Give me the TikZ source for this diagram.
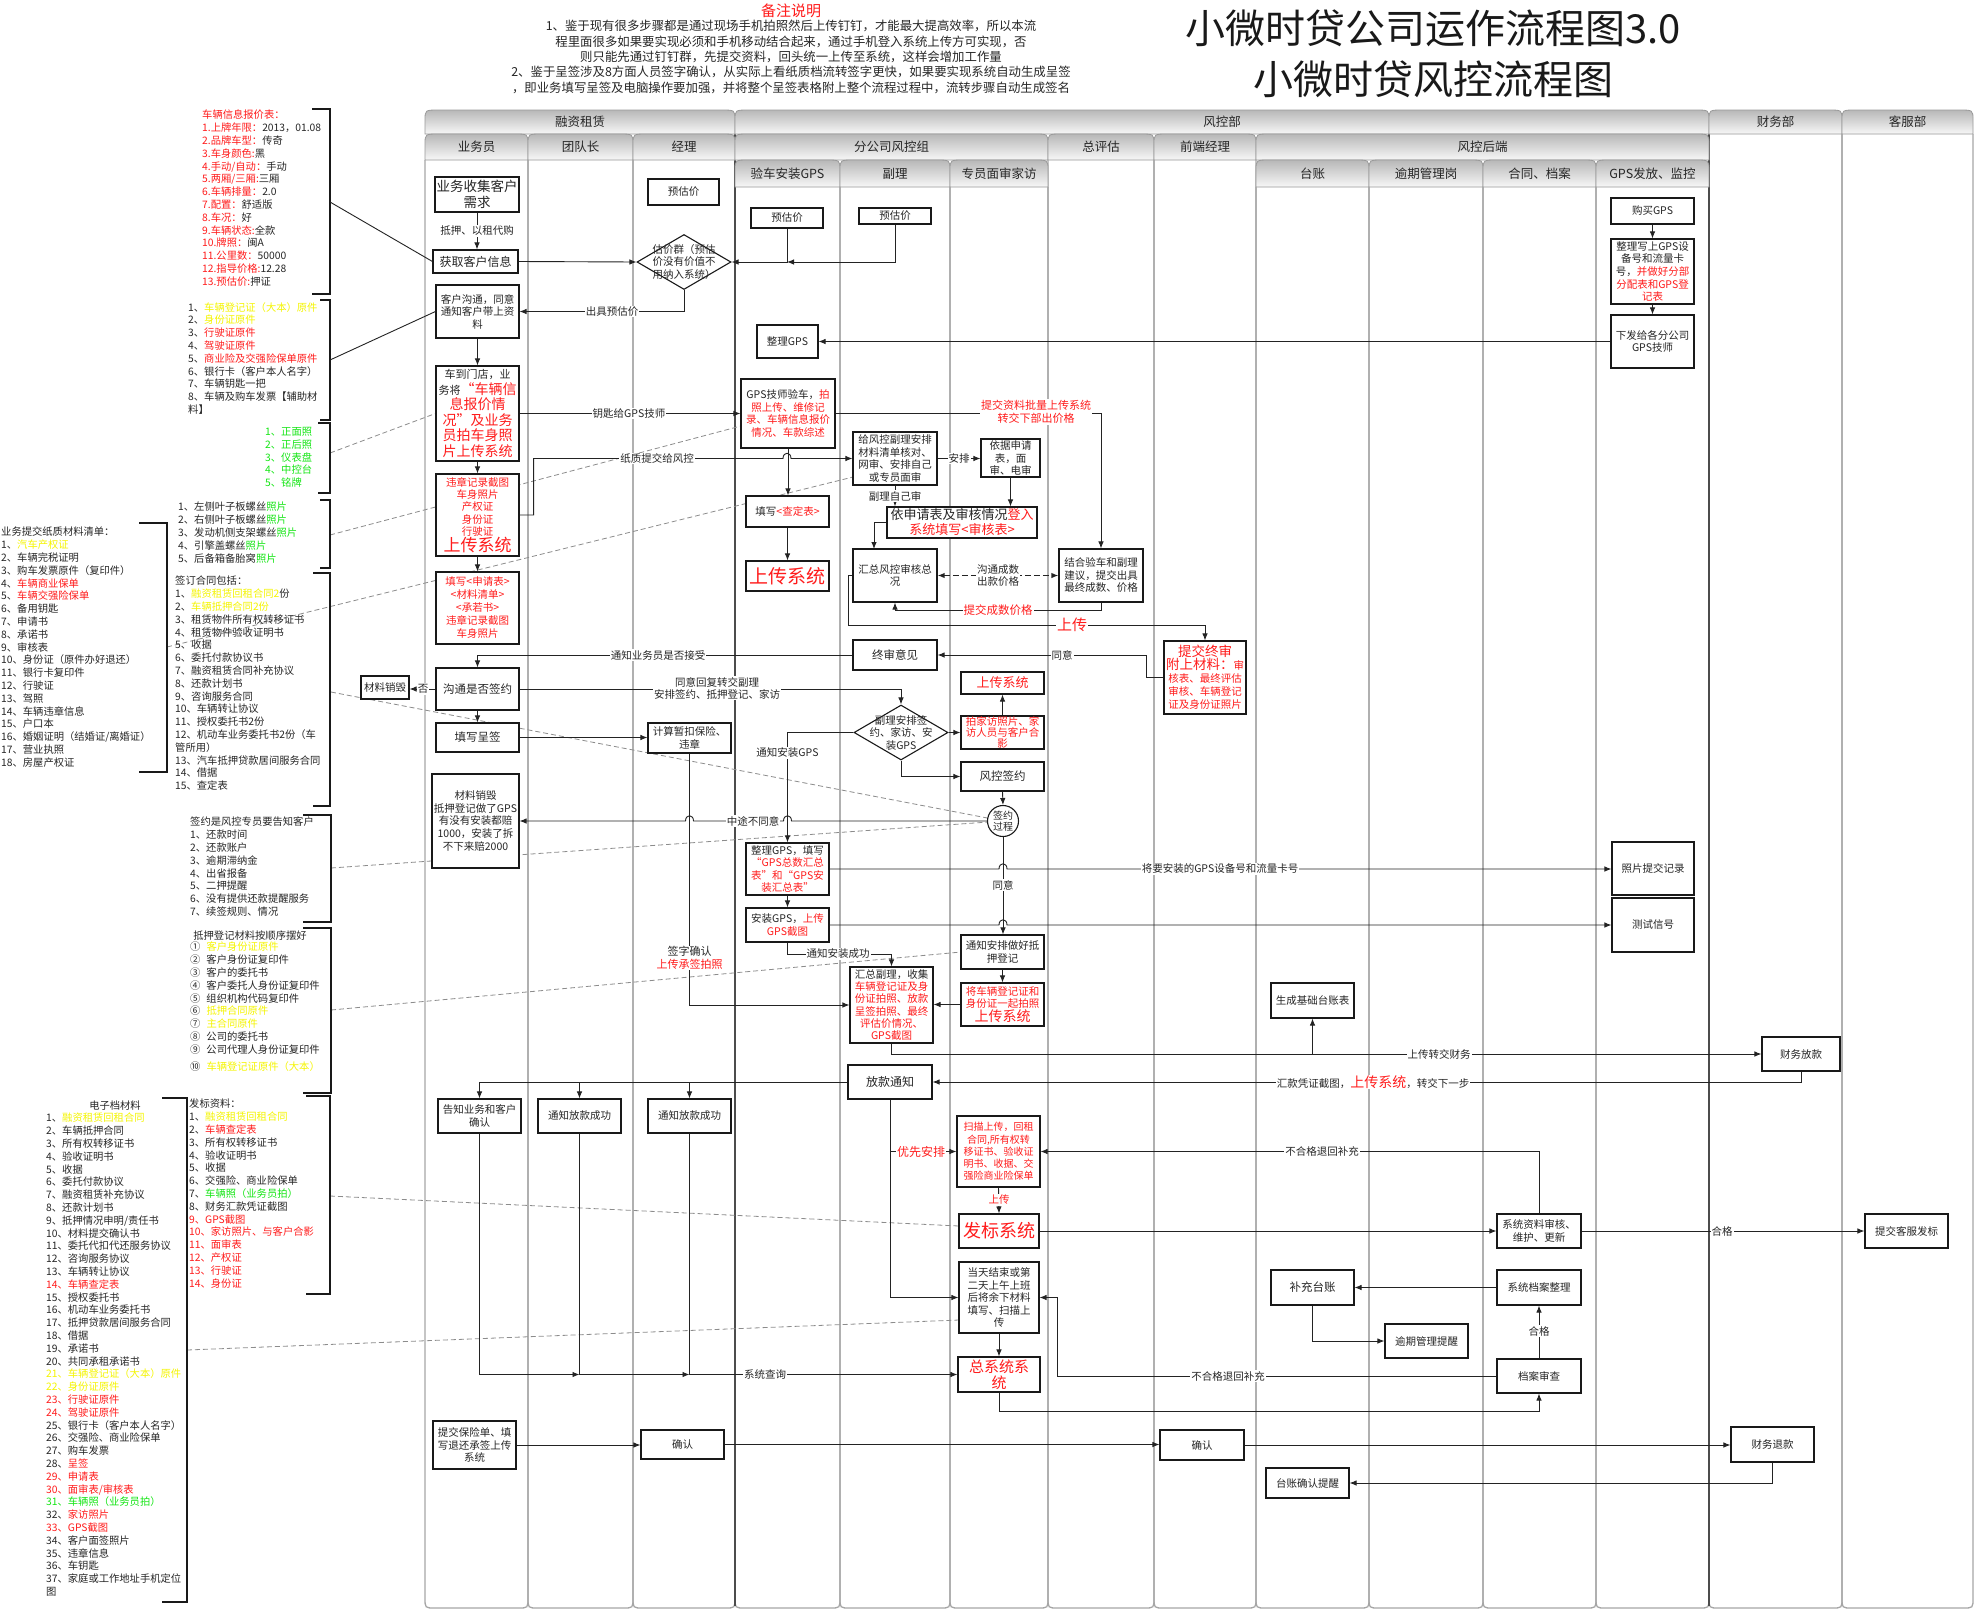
\documentclass[tikz,border=0pt]{standalone}
\usepackage{fontspec}
\setmainfont{Noto Sans CJK SC}
\usetikzlibrary{arrows.meta,shapes.geometric}
\pgfdeclarelayer{bg}
\pgfdeclarelayer{mid}
\pgfsetlayers{bg,mid,main}
\definecolor{rd}{RGB}{255,28,28}
\definecolor{yl}{RGB}{245,245,0}
\definecolor{gn}{RGB}{20,230,20}
\definecolor{lnc}{RGB}{35,35,35}
\newcommand{\fsz}[2]{\fontsize{#1}{#2}\selectfont}
\newcommand{\rtx}[1]{\textcolor{rd}{#1}}
\newcommand{\ytx}[1]{\textcolor{yl}{#1}}
\newcommand{\gtx}[1]{\textcolor{gn}{#1}}
\newcommand{\mkbox}[7][]{\node[bx,#1,minimum width={#5pt-#3pt},minimum height={#6pt-#4pt}] (#2) at ({(#3+#5)/2},{(#4+#6)/2}) {#7};}
\newcommand{\mkhdr}[6]{\shadedraw[hdr] (#1,#4) -- (#1,{#2+10}) .. controls (#1,#2) .. ({#1+14},#2) -- ({#3-14},#2) .. controls (#3,#2) .. (#3,{#2+10}) -- (#3,#4) -- cycle;
 \node[hdrtx] (#5) at ({(#1+#3)/2},{(#2+#4)/2}) {#6};}
\newcommand{\mklane}[3]{\draw[lanest] (#1,#3) -- (#1,1598) .. controls (#1,1608) .. ({#1+10},1608) -- ({#2-10},1608) .. controls (#2,1608) .. (#2,1598) -- (#2,#3);}
\newcommand{\mkbrk}[4]{\draw[brk] (#1,#3) -- (#2,#3) -- (#2,#4) -- (#1,#4);}
\begin{document}
\begin{tikzpicture}[x=1pt,y=-1pt,
 bx/.style={draw=black!90, line width=1.1pt, fill=white, inner sep=0.5pt, align=center, font=\fsz{10.5}{12.5}, text=black!85},
 lbl/.style={fill=white, inner sep=1pt, align=center, font=\fsz{10.5}{12}, text=black!85},
 ar/.style={draw=lnc, line width=0.9pt, -{Latex[length=7pt,width=5.5pt]}},
 ln0/.style={draw=lnc, line width=0.9pt},
 dsh/.style={draw=black!45, line width=0.8pt, dash pattern=on 5pt off 3pt},
 note/.style={anchor=north west, inner sep=0pt, align=left, font=\fsz{10.3}{12.8}, text=black!85},
 dia/.style={draw=black!90, line width=1.1pt, fill=white, diamond, inner sep=0pt, minimum width=94pt, minimum height=55pt},
 dtx/.style={align=center, font=\fsz{10.5}{12.5}, text=black!85, inner sep=0pt},
 brk/.style={draw=black!90, line width=1.1pt},
 lanest/.style={draw=black!35, line width=1.3pt},
 hdr/.style={top color=black!28, bottom color=black!3, draw=black!40, line width=0.8pt},
 hdrtx/.style={font=\fsz{12.5}{14}, text=black!85}
]
\useasboundingbox (0,0) rectangle (1975,1612);
\begin{pgfonlayer}{bg}
\fill[white] (0,0) rectangle (1975,1612);
\mklane{425}{528}{160}
\mklane{528}{633}{160}
\mklane{633}{735}{160}
\mklane{735}{840}{187}
\mklane{840}{950}{187}
\mklane{950}{1048}{187}
\mklane{1048}{1154}{160}
\mklane{1154}{1256}{160}
\mklane{1256}{1369}{187}
\mklane{1369}{1483}{187}
\mklane{1483}{1596}{187}
\mklane{1596}{1709}{187}
\mklane{1709}{1842}{134}
\mklane{1842}{1973}{134}
\draw[draw=black!70, line width=1.6pt] (735,134) -- (735,1606);
\draw[draw=black!70, line width=1.6pt] (1709,134) -- (1709,1606);
\mkhdr{425}{110}{735}{134}{h1}{融资租赁}
\mkhdr{735}{110}{1709}{134}{h2}{风控部}
\mkhdr{1709}{110}{1842}{134}{h3}{财务部}
\mkhdr{1842}{110}{1973}{134}{h4}{客服部}
\mkhdr{425}{134}{528}{160}{h5}{业务员}
\mkhdr{528}{134}{633}{160}{h6}{团队长}
\mkhdr{633}{134}{735}{160}{h7}{经理}
\mkhdr{735}{134}{1048}{160}{h8}{分公司风控组}
\mkhdr{1048}{134}{1154}{160}{h9}{总评估}
\mkhdr{1154}{134}{1256}{160}{h10}{前端经理}
\mkhdr{1256}{134}{1709}{160}{h11}{风控后端}
\mkhdr{735}{160}{840}{187}{h12}{验车安装GPS}
\mkhdr{840}{160}{950}{187}{h13}{副理}
\mkhdr{950}{160}{1048}{187}{h14}{专员面审家访}
\mkhdr{1256}{160}{1369}{187}{h15}{台账}
\mkhdr{1369}{160}{1483}{187}{h16}{逾期管理岗}
\mkhdr{1483}{160}{1596}{187}{h17}{合同、档案}
\mkhdr{1596}{160}{1709}{187}{h18}{GPS发放、监控}
\end{pgfonlayer}

% titles and notes
\node[font=\fsz{40}{46}, text=black!90] (t1) at (1433,28) {小微时贷公司运作流程图3.0};
\node[font=\fsz{40}{46}, text=black!90] (t2) at (1433,79) {小微时贷风控流程图};
\node[font=\fsz{15}{17}, text=rd] (nt) at (791,11) {备注说明};
\node[font=\fsz{12.4}{15.3}, align=center, text=black!85] (nb) at (791,57) {1、鉴于现有很多步骤都是通过现场手机拍照然后上传钉钉，才能最大提高效率，所以本流\\程里面很多如果要实现必须和手机移动结合起来，通过手机登入系统上传方可实现，否\\则只能先通过钉钉群，先提交资料，回头统一上传至系统，这样会增加工作量\\2、鉴于呈签涉及8方面人员签字确认，从实际上看纸质档流转签字更快，如果要实现系统自动生成呈签\\，即业务填写呈签及电脑操作要加强，并将整个呈签表格附上整个流程过程中，流转步骤自动生成签名};

% side lists
\node[note] (n1) at (202,110) {\rtx{车辆信息报价表：}\\\rtx{1.上牌年限：}2013，01.08\\\rtx{2.品牌车型：}传奇\\\rtx{3.车身颜色:}黑\\\rtx{4.手动/自动：}手动\\\rtx{5.两厢/三厢:}三厢\\\rtx{6.车辆排量：}2.0\\\rtx{7.配置：}舒适版\\\rtx{8.车况：}好\\\rtx{9.车辆状态:}全款\\\rtx{10.牌照：}闽A\\\rtx{11.公里数：}50000\\\rtx{12.指导价格:}12.28\\\rtx{13.预估价:}押证};
\node[note] (n2) at (188,302) {1、\ytx{车辆登记证（大本）原件}\\2、\ytx{身份证原件}\\3、\rtx{行驶证原件}\\4、\rtx{驾驶证原件}\\5、\rtx{商业险及交强险保单原件}\\6、银行卡（客户本人名字）\\7、车辆钥匙一把\\8、车辆及购车发票【辅助材\\料】};
\node[note, text=gn] (n3) at (265,427) {1、正面照\\2、正后照\\3、仪表盘\\4、中控台\\5、铭牌};
\node[note] (n4) at (178,502) {1、左侧叶子板螺丝\gtx{照片}\\2、右侧叶子板螺丝\gtx{照片}\\3、发动机侧支架螺丝\gtx{照片}\\4、引擎盖螺丝\gtx{照片}\\5、后备箱备胎窝\gtx{照片}};
\node[note] (n5) at (175,576) {签订合同包括：\\1、\ytx{融资租赁回租合同2}份\\2、\ytx{车辆抵押合同2份}\\3、租赁物件所有权转移证书\\4、租赁物件验收证明书\\5、收据\\6、委托付款协议书\\7、融资租赁合同补充协议\\8、还款计划书\\9、咨询服务合同\\10、车辆转让协议\\11、授权委托书2份\\12、机动车业务委托书2份（车\\管所用）\\13、汽车抵押贷款居间服务合同\\14、借据\\15、查定表};
\node[note] (n6) at (1,527) {业务提交纸质材料清单：\\1、\ytx{汽车产权证}\\2、车辆完税证明\\3、购车发票原件（复印件）\\4、\rtx{车辆商业保单}\\5、\rtx{车辆交强险保单}\\6、备用钥匙\\7、申请书\\8、承诺书\\9、审核表\\10、身份证（原件办好退还）\\11、银行卡复印件\\12、行驶证\\13、驾照\\14、车辆违章信息\\15、户口本\\16、婚姻证明（结婚证/离婚证）\\17、营业执照\\18、房屋产权证};
\node[note] (n7) at (190,817) {签约是风控专员要告知客户\\1、还款时间\\2、还款账户\\3、逾期滞纳金\\4、出省报备\\5、二押提醒\\6、没有提供还款提醒服务\\7、续签规则、情况};
\node[note, anchor=center] (n8t) at (250,936) {抵押登记材料按顺序摆好};
\node[note] (n8) at (190,942) {①\hspace{6pt}\ytx{客户身份证原件}\\②\hspace{6pt}客户身份证复印件\\③\hspace{6pt}客户的委托书\\④\hspace{6pt}客户委托人身份证复印件\\⑤\hspace{6pt}组织机构代码复印件\\⑥\hspace{6pt}\ytx{抵押合同原件}\\⑦\hspace{6pt}\ytx{主合同原件}\\⑧\hspace{6pt}公司的委托书\\⑨\hspace{6pt}公司代理人身份证复印件\\[4pt]⑩\hspace{6pt}\ytx{车辆登记证原件（大本）}};
\node[note] (n9) at (189,1099) {发标资料：\\1、\ytx{融资租赁回租合同}\\2、\rtx{车辆查定表}\\3、所有权转移证书\\4、验收证明书\\5、收据\\6、交强险、商业险保单\\7、\gtx{车辆照（业务员拍）}\\8、财务汇款凭证截图\\\rtx{9、GPS截图}\\\rtx{10、家访照片、与客户合影}\\\rtx{11、面审表}\\\rtx{12、产权证}\\\rtx{13、行驶证}\\\rtx{14、身份证}};
\node[note, anchor=center] (n10t) at (115,1106) {电子档材料};
\node[note] (n10) at (46,1113) {1、\ytx{融资租赁回租合同}\\2、车辆抵押合同\\3、所有权转移证书\\4、验收证明书\\5、收据\\6、委托付款协议\\7、融资租赁补充协议\\8、还款计划书\\9、抵押情况申明/责任书\\10、材料提交确认书\\11、委托代扣代还服务协议\\12、咨询服务协议\\13、车辆转让协议\\\rtx{14、车辆查定表}\\15、授权委托书\\16、机动车业务委托书\\17、抵押贷款居间服务合同\\18、借据\\19、承诺书\\20、共同承租承诺书\\\ytx{21、车辆登记证（大本）原件}\\\ytx{22、身份证原件}\\\rtx{23、行驶证原件}\\\rtx{24、驾驶证原件}\\25、银行卡（客户本人名字）\\26、交强险、商业险保单\\27、购车发票\\28、\rtx{呈签}\\\rtx{29、申请表}\\\rtx{30、面审表/审核表}\\\gtx{31、车辆照（业务员拍）}\\32、\rtx{家访照片}\\\rtx{33、GPS截图}\\34、客户面签照片\\35、违章信息\\36、车钥匙\\37、家庭或工作地址手机定位\\图};

\mkbrk{312}{330}{109}{294}
\mkbrk{320}{330}{300}{420}
\mkbrk{318}{330}{423}{493}
\mkbrk{320}{330}{500}{568}
\mkbrk{313}{330}{573}{806}
\mkbrk{139}{167}{523}{772}
\mkbrk{303}{331}{815}{922}
\mkbrk{303}{331}{928}{1093}
\mkbrk{306}{330}{1096}{1294}
\mkbrk{162}{187}{1098}{1602}

% boxes
\mkbox[font=\fsz{13.5}{16}]{B1}{435}{177}{519}{212}{业务收集客户\\需求}
\mkbox[font=\fsz{12}{14}]{B2}{433}{250}{518}{273}{获取客户信息}
\mkbox{B3}{436}{285}{519}{338}{客户沟通，同意\\通知客户带上资\\料}
\mkbox[font=\fsz{11}{15.5},inner sep=0pt]{B4}{436}{366}{519}{461}{车到门店，业\\务将{\fsz{14}{16}\rtx{“车辆信}}\\{\fsz{14}{16}\rtx{息报价情}}\\{\fsz{14}{16}\rtx{况”及业务}}\\{\fsz{14}{16}\rtx{员拍车身照}}\\{\fsz{14}{16}\rtx{片上传系统}}}
\mkbox[font=\fsz{10.5}{12.3},inner sep=0pt]{B5}{436}{474}{519}{556}{\rtx{违章记录截图}\\\rtx{车身照片}\\\rtx{产权证}\\\rtx{身份证}\\\rtx{行驶证}\\{\fsz{17}{19}\rtx{上传系统}}}
\mkbox[font=\fsz{10.5}{13}]{B6}{436}{572}{519}{644}{\rtx{填写<申请表>}\\\rtx{<材料清单>}\\\rtx{<承若书>}\\\rtx{违章记录截图}\\\rtx{车身照片}}
\mkbox[font=\fsz{11.5}{14}]{B7}{436}{668}{519}{710}{沟通是否签约}
\mkbox[font=\fsz{11.5}{14}]{B8}{436}{723}{519}{752}{填写呈签}
\mkbox[font=\fsz{10.5}{12.6}]{B9}{432}{774}{519}{868}{材料销毁\\抵押登记做了GPS\\有没有安装都赔\\1000，安装了拆\\不下来赔2000}
\mkbox{B10}{438}{1099}{521}{1133}{告知业务和客户\\确认}
\mkbox{B11}{433}{1421}{516}{1469}{提交保险单、填\\写退还承签上传\\系统}
\mkbox{B0}{361}{676}{409}{699}{材料销毁}
\mkbox{B12}{538}{1099}{621}{1133}{通知放款成功}
\mkbox{B13}{648}{179}{719}{205}{预估价}
\node[dia] (D1) at (684,262) {};
\node[dtx] (D1t) at (684,262) {估价群（预估\\价没有价值不\\用纳入系统）};
\mkbox{B14}{648}{723}{731}{753}{计算暂扣保险、\\违章}
\mkbox{B15}{648}{1099}{731}{1133}{通知放款成功}
\mkbox{B16}{641}{1430}{724}{1459}{确认}
\mkbox{B17}{751}{208}{823}{228}{预估价}
\mkbox{B18}{757}{325}{818}{358}{整理GPS}
\mkbox[font=\fsz{10.5}{12.8}]{B19}{741}{379}{835}{448}{GPS技师验车，\rtx{拍}\\\rtx{照上传、维修记}\\\rtx{录、车辆信息报价}\\\rtx{情况、车款综述}}
\mkbox{B20}{746}{496}{829}{527}{填写\rtx{<查定表>}}
\mkbox[font=\fsz{19}{22}]{B21}{746}{561}{829}{591}{\rtx{上传系统}}
\mkbox[font=\fsz{10.5}{12.5}]{B22}{746}{843}{829}{895}{整理GPS，填写\\\rtx{“GPS总数汇总}\\\rtx{表”和“GPS安}\\\rtx{装汇总表”}}
\mkbox{B23}{746}{908}{829}{942}{安装GPS，\rtx{上传}\\\rtx{GPS截图}}
\mkbox{B24}{859}{208}{931}{224}{预估价}
\mkbox{B25}{853}{432}{937}{485}{给风控副理安排\\材料清单核对、\\网审、安排自己\\或专员面审}
\mkbox[font=\fsz{13}{15}]{B26}{887}{507}{1037}{538}{依申请表及审核情况\rtx{登入}\\\rtx{系统填写<审核表>}}
\mkbox{B27}{853}{549}{937}{602}{汇总风控审核总\\况}
\mkbox[font=\fsz{11.5}{14}]{B28}{853}{640}{937}{670}{终审意见}
\node[dia] (D2) at (901,732.5) {};
\node[dtx] (D2t) at (901,732.5) {副理安排签\\约、家访、安\\装GPS};
\mkbox[font=\fsz{10.5}{12.3},inner sep=0pt]{B29}{850}{967}{933}{1043}{汇总副理，收集\\\rtx{车辆登记证及身}\\\rtx{份证拍照、放款}\\\rtx{呈签拍照、最终}\\\rtx{评估价情况、}\\\rtx{GPS截图}}
\mkbox[font=\fsz{12}{14}]{B30}{848}{1065}{932}{1099}{放款通知}
\mkbox[font=\fsz{10}{12.2}]{B31}{957}{1116}{1040}{1187}{\rtx{扫描上传，回租}\\\rtx{合同,所有权转}\\\rtx{移证书、验收证}\\\rtx{明书、收据、交}\\\rtx{强险商业险保单}}
\mkbox[font=\fsz{10.5}{12.2},inner sep=0pt]{B32}{981}{439}{1040}{477}{依据申请\\表，面\\审、电审}
\mkbox[font=\fsz{13}{15}]{B33}{961}{672}{1044}{694}{\rtx{上传系统}}
\mkbox[font=\fsz{10.5}{11},inner sep=0pt]{B34}{961}{716}{1044}{749}{\rtx{拍家访照片、家}\\\rtx{访人员与客户合}\\\rtx{影}}
\mkbox[font=\fsz{11.5}{14}]{B35}{961}{762}{1044}{791}{风控签约}
\node[draw=black!90, line width=1.1pt, fill=white, circle, minimum size=31pt, inner sep=0pt, align=center, font=\fsz{10}{11}, text=black!85] (C1) at (1003,821) {签约\\过程};
\mkbox{B36}{961}{935}{1044}{969}{通知安排做好抵\\押登记}
\mkbox[font=\fsz{10.5}{12.5},inner sep=0pt]{B37}{961}{983}{1044}{1026}{\rtx{将车辆登记证和}\\\rtx{身份证一起拍照}\\{\fsz{14}{16}\rtx{上传系统}}}
\mkbox[font=\fsz{18}{21}]{B38}{959}{1214}{1039}{1248}{\rtx{发标系统}}
\mkbox[font=\fsz{10.5}{12.5}]{B39}{959}{1262}{1039}{1333}{当天结束或第\\二天上午上班\\后将余下材料\\填写、扫描上\\传}
\mkbox[font=\fsz{15}{16}]{B40}{958}{1357}{1040}{1392}{\rtx{总系统系}\\\rtx{统}}
\mkbox{B41}{1059}{549}{1143}{602}{结合验车和副理\\建议，提交出具\\最终成数、价格}
\mkbox{B42}{1160}{1430}{1244}{1460}{确认}
\mkbox[font=\fsz{10.5}{13},inner sep=0pt]{B43}{1164}{641}{1246}{714}{{\fsz{13.5}{15}\rtx{提交终审}}\\{\fsz{13.5}{15}\rtx{附上材料：}}\rtx{审}\\\rtx{核表、最终评估}\\\rtx{审核、车辆登记}\\\rtx{证及身份证照片}}
\mkbox{B44}{1271}{983}{1354}{1018}{生成基础台账表}
\mkbox[font=\fsz{11.5}{14}]{B45}{1271}{1270}{1354}{1305}{补充台账}
\mkbox{B46}{1266}{1468}{1349}{1498}{台账确认提醒}
\mkbox{B47}{1385}{1324}{1468}{1358}{逾期管理提醒}
\mkbox{B48}{1497}{1214}{1581}{1248}{系统资料审核、\\维护、更新}
\mkbox{B49}{1497}{1270}{1581}{1305}{系统档案整理}
\mkbox{B50}{1497}{1359}{1581}{1393}{档案审查}
\mkbox{B51}{1611}{198}{1694}{224}{购买GPS}
\mkbox[font=\fsz{10.5}{12.6},inner sep=0pt]{B52}{1611}{239}{1694}{304}{整理写上GPS设\\备号和流量卡\\号，\rtx{并做好分部}\\\rtx{分配表和GPS登}\\\rtx{记表}}
\mkbox{B53}{1611}{315}{1694}{368}{下发给各分公司\\GPS技师}
\mkbox{B54}{1612}{842}{1694}{895}{照片提交记录}
\mkbox{B55}{1612}{898}{1694}{952}{测试信号}
\mkbox{B56}{1762}{1037}{1840}{1071}{财务放款}
\mkbox{B57}{1731}{1427}{1814}{1462}{财务退款}
\mkbox{B58}{1865}{1214}{1948}{1248}{提交客服发标}

% coordinates
\coordinate (ba) at (330,202);
\coordinate (bb) at (330,360);
\coordinate (k1) at (874,549);
\coordinate (k2) at (848,625);
\coordinate (k3) at (1146,655);
\coordinate (k4) at (1057,1376);
\coordinate (k5) at (579.5,1374.5);
\coordinate (k6) at (689.5,1374.5);
\coordinate (da) at (330,453);
\coordinate (db) at (330,535);
\coordinate (dc) at (167,647);
\coordinate (dc2) at (853,477);
\coordinate (dd) at (331,692);
\coordinate (de) at (331,868);
\coordinate (df) at (331,1010);
\coordinate (df2) at (961,952);
\coordinate (dg) at (330,1196);
\coordinate (dg2) at (959,1226);
\coordinate (dh) at (187,1350);
\coordinate (dh2) at (959,1320);

\begin{pgfonlayer}{mid}
\draw[dsh] (da) -- (B4.west);
\draw[dsh] (db) -- (B19);
\draw[dsh] (dc) -- (dc2);
\draw[dsh] (dd) -- (C1);
\draw[dsh] (de) -- (C1);
\draw[dsh] (df) -- (df2);
\draw[dsh] (dg) -- (dg2);
\draw[dsh] (dh) -- (dh2);
\end{pgfonlayer}

\draw[ln0] (ba) -- (B2.west);
\draw[ln0] (bb) -- (B3.west);

% connectors
\draw[ar] (B1.south) -- (B1.south |- B2.north);
\draw[ar] (B2.east) -- (D1.west);
\draw[ar] (B17.south) |- (D1.east);
\draw[ar] (B24.south) |- (B17.south |- D1.east);
\draw[ar] (D1.south) |- (B3.east);
\draw[ar] (B3.south) -- (B4.north);
\draw[ar] (B4.south) -- (B5.north);
\draw[ar] (B5.south) -- (B6.north);
\draw[ar] (B4.east) -- (B19.west);
\draw[ar] (B5.east) -- ++(14,0) |- (783,458.5) .. controls (783,451.5) and (791,451.5) .. (791,458.5) -- (B25.west);
\draw[ar] (B19.east) -| (B41.north);
\draw[ar] (B19.south) -- (B19.south |- B20.north);
\draw[ar] (B20.south) -- (B21.north);
\draw[ar] (B51.south) -- (B52.north);
\draw[ar] (B52.south) -- (B53.north);
\draw[ar] (B53.west) -- (B18.east);
\draw[ar] (B25.east) -- (B25.east -| B32.west);
\draw[ar] (B32.south) -- (B32.south |- B26.north);
\draw[ar] (B25.south) -- (B25.south |- B26.north);
\draw[ar] (B26.west) -| (k1);
\draw[draw=lnc, line width=1.4pt, dash pattern=on 6pt off 3pt, {Latex[length=7pt,width=5.5pt]}-{Latex[length=7pt,width=5.5pt]}] (B27.east) -- (B41.west);
\draw[ar] (B41.south) -- ++(0,8) -| (B27.south);
\draw[ar] (B27.west) -| (k2) -| (B43.north);
\draw[ar] (B43.west) -| (k3) -- (k3 -| B28.east);
\draw[ar] (B28.west) -| (B7.north);
\draw[ar] (B7.west) -- (B7.west -| B0.east);
\draw[ar] (B7.east) -| (D2.north);
\draw[ar] (B7.south) -- (B8.north);
\draw[ar] (B8.east) -- (B8.east -| B14.west);
\draw[ar] (D2.west) -| (B22.north);
\draw[ar] (D2.east) -- (D2.east -| B34.west);
\draw[ar] (D2.south) |- (B35.west);
\draw[ar] (B34.north) -- (B33.south);
\draw[ar] (B35.south) -- (C1.north);
\draw[ar] (C1.west) -- (791.5,821) .. controls (791.5,814) and (783.5,814) .. (783.5,821) -- (693.5,821) .. controls (693.5,814) and (685.5,814) .. (685.5,821) -- (B9.east);
\draw[ar] (C1.south) -- (C1.south |- B36.north);
\draw[ar] (B22.south) -- (B23.north);
\draw[ar] (B22.east) -- (999,869) .. controls (999,862) and (1007,862) .. (1007,869) -- (B54.west |- B22.east);
\draw[ar] (B23.east) -- (999,925) .. controls (999,918) and (1007,918) .. (1007,925) -- (B55.west |- B23.east);
\draw[ar] (B23.south) -- ++(0,12) -| (B29.north);
\draw[ar] (B14.south) |- (B29.west);
\draw[ar] (B36.south) -- (B37.north);
\draw[ar] (B37.west) -- (B37.west -| B29.east);
\draw[ar] (B29.south) |- (B56.west);
\draw[ar] (B44.south |- B56.west) -- (B44.south);
\draw[ar] (B56.south) |- (B30.east);
\draw[ar] (B30.west) -| (B10.north);
\draw[ar] (B12.north |- B30.west) -- (B12.north);
\draw[ar] (B15.north |- B30.west) -- (B15.north);
\draw[ar] (B30.south) |- (B31.west);
\draw[ar] (B30.south) |- (B39.west);
\draw[ar] (B31.south) -- (B38.north);
\draw[ar] (B38.east) -- (B48.west);
\draw[ar] (B48.east) -- (B58.west);
\draw[ar] (B48.north) |- (B31.east);
\draw[ar] (B39.south) -- (B40.north);
\draw[ar] (B40.south) -- ++(0,19) -| (B50.south);
\draw[ar] (B50.north) -- (B49.south);
\draw[ar] (B49.west) -- (B45.east);
\draw[ar] (B45.south) |- (B47.west);
\draw[ar] (B50.west) -| (k4) |- (B39.east);
\draw[ar] (B10.south) |- (k5);
\draw[ln0] (B12.south) -- (k5);
\draw[ar] (k5) -- (k6);
\draw[ln0] (B15.south) -- (k6);
\draw[ar] (k6) -- (k6 -| B40.west);
\draw[ar] (B11.east) -- (B11.east -| B16.west);
\draw[ar] (B16.east) -- (B16.east -| B42.west);
\draw[ar] (B42.east) -- (B42.east -| B57.west);
\draw[ar] (B57.south) |- (B46.east);

% labels
\node[lbl] (lb1) at (477,231) {抵押、以租代购};
\node[lbl] (lb2) at (612,311.5) {出具预估价};
\node[lbl] (lb3) at (629,413.5) {钥匙给GPS技师};
\node[lbl] (lb4) at (657,458.5) {纸质提交给风控};
\node[lbl, text=rd, font=\fsz{11}{13}] (lb5) at (1036,412) {提交资料批量上传系统\\转交下部出价格};
\node[lbl] (lb6) at (959,458.5) {安排};
\node[lbl] (lb7) at (895,496) {副理自己审};
\node[lbl] (lb8) at (998,575.5) {沟通成数\\出款价格};
\node[lbl, text=rd, font=\fsz{11.5}{13}] (lb9) at (998,610) {提交成数价格};
\node[lbl, text=rd, font=\fsz{15}{17}] (lb10) at (1072,625) {上传};
\node[lbl] (lb11) at (1062,655) {同意};
\node[lbl] (lb12) at (658,655) {通知业务员是否接受};
\node[lbl] (lb13) at (423,689) {否};
\node[lbl] (lb14) at (717,688) {同意回复转交副理\\安排签约、抵押登记、家访};
\node[lbl] (lb15) at (787.5,753) {通知安装GPS};
\node[lbl] (lb16) at (753,821) {中途不同意};
\node[lbl] (lb17) at (1003,885) {同意};
\node[lbl] (lb18) at (1220,869) {将要安装的GPS设备号和流量卡号};
\node[lbl] (lb19) at (838,954) {通知安装成功};
\node[lbl, font=\fsz{11}{12.5}] (lb20) at (689.5,958) {签字确认\\\rtx{上传承签拍照}};
\node[lbl] (lb21) at (1439,1054) {上传转交财务};
\node[lbl] (lb22) at (1373,1082) {汇款凭证截图，{\fsz{14}{16}\rtx{上传系统}}，转交下一步};
\node[lbl, text=rd, font=\fsz{12}{14}] (lb23) at (921,1151.5) {优先安排};
\node[lbl, text=rd] (lb24) at (999,1200) {上传};
\node[lbl] (lb25) at (1722,1231) {合格};
\node[lbl] (lb26) at (1322,1151.5) {不合格退回补充};
\node[lbl] (lb27) at (1539,1331) {合格};
\node[lbl] (lb28) at (1228,1376) {不合格退回补充};
\node[lbl] (lb29) at (765,1374.5) {系统查询};
\end{tikzpicture}
\end{document}
